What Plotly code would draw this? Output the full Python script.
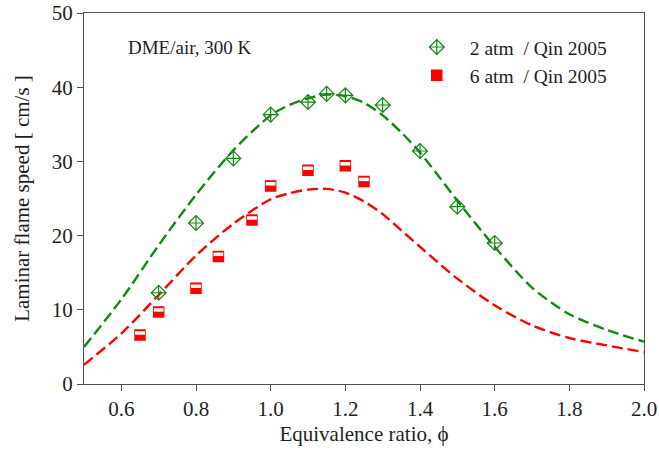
import plotly.graph_objects as go

# Measured laminar flame speeds, DME/air at 300 K
phi_2atm = [0.70, 0.80, 0.90, 1.00, 1.10, 1.15, 1.20, 1.30, 1.40, 1.50, 1.60]
su_2atm = [12.3, 21.7, 30.4, 36.3, 38.0, 39.1, 38.9, 37.6, 31.4, 23.9, 19.0]

phi_6atm = [0.65, 0.70, 0.80, 0.86, 0.95, 1.00, 1.10, 1.20, 1.25]
su_6atm = [6.6, 9.7, 12.9, 17.2, 22.1, 26.7, 28.8, 29.4, 27.3]

# Model predictions
phi_model = [0.50, 0.60, 0.70, 0.80, 0.90, 1.00, 1.05, 1.10, 1.15, 1.20, 1.25,
             1.30, 1.35, 1.40, 1.45, 1.50, 1.60, 1.70, 1.80, 1.90, 2.00]
su_model_2atm = [5.0, 11.4, 18.7, 25.5, 31.5, 36.2, 37.6, 38.5, 39.0, 38.8, 37.9,
                 36.2, 33.9, 31.2, 28.0, 24.7, 18.5, 13.0, 9.4, 7.3, 5.7]
su_model_6atm = [2.6, 6.8, 12.0, 17.3, 21.6, 24.9, 25.7, 26.2, 26.3, 25.8, 24.6,
                 22.9, 20.7, 18.5, 16.3, 14.2, 10.6, 7.9, 6.2, 5.2, 4.3]

x_ticks = [0.6, 0.8, 1.0, 1.2, 1.4, 1.6, 1.8, 2.0]
x_ticktext = ["0.6", "0.8", "1.0", "1.2", "1.4", "1.6", "1.8", "2.0"]
y_ticks = [0, 10, 20, 30, 40, 50]

GREEN = "#128812"
RED = "#ff0000"
INK = "#1e1e1e"
FONT = "Liberation Serif"

fig = go.Figure()

fig.add_trace(go.Scatter(
    x=phi_model, y=su_model_2atm, mode="lines", showlegend=False,
    line=dict(color=GREEN, width=2.4, dash="11px,5px", shape="spline", smoothing=0.8),
    hoverinfo="skip"))
fig.add_trace(go.Scatter(
    x=phi_model, y=su_model_6atm, mode="lines", showlegend=False,
    line=dict(color=RED, width=2.4, dash="11px,5px", shape="spline", smoothing=0.8),
    hoverinfo="skip"))

fig.add_trace(go.Scatter(
    x=phi_2atm, y=su_2atm, mode="markers",
    name="2 atm\u00a0\u00a0/ Qin 2005",
    marker=dict(symbol="diamond-cross-open", size=11.5, color=GREEN,
                line=dict(color=GREEN, width=1.2))))

fig.add_trace(go.Scatter(
    x=phi_6atm, y=su_6atm, mode="markers",
    name="6 atm\u00a0\u00a0/ Qin 2005",
    marker=dict(symbol="square", size=10, color=RED,
                line=dict(color=RED, width=1.5))))

# white band in the upper half of each square marker
stripe_shift = 0.28
fig.add_trace(go.Scatter(
    x=phi_6atm, y=[v + stripe_shift for v in su_6atm], mode="markers",
    showlegend=False, hoverinfo="skip",
    marker=dict(symbol="line-ew-open", size=7, color="white",
                line=dict(color="white", width=3.5))))

axis_common = dict(
    showline=True, linecolor="#505050", linewidth=1.2, mirror=True,
    ticks="outside", tickcolor="#505050", ticklen=6, tickwidth=1.2,
    showgrid=False, zeroline=False, automargin=False,
    tickfont=dict(family=FONT, size=21, color=INK),
)

fig.update_xaxes(range=[0.5, 2.0], tickvals=x_ticks, ticktext=x_ticktext,
                 title=dict(text="Equivalence ratio, \u03d5",
                            font=dict(family=FONT, size=21, color=INK), standoff=6),
                 **axis_common)
fig.update_yaxes(range=[0, 50], tickvals=y_ticks,
                 title=dict(text="Laminar flame speed [ cm/s ]",
                            font=dict(family=FONT, size=21, color=INK), standoff=16),
                 **axis_common)

fig.add_annotation(x=0.189, y=0.907, xref="paper", yref="paper",
                   xanchor="center", yanchor="middle",
                   text="DME/air, 300 K", showarrow=False,
                   font=dict(family=FONT, size=19, color=INK))

fig.update_layout(
    width=659, height=458,
    margin=dict(l=84, r=15, t=13, b=74),
    plot_bgcolor="white", paper_bgcolor="white",
    legend=dict(x=0.571, y=0.96, xanchor="left", yanchor="top",
                bgcolor="rgba(0,0,0,0)", font=dict(family=FONT, size=19.5, color=INK),
                itemwidth=56, tracegroupgap=0),
)

fig.write_html("out.html")
